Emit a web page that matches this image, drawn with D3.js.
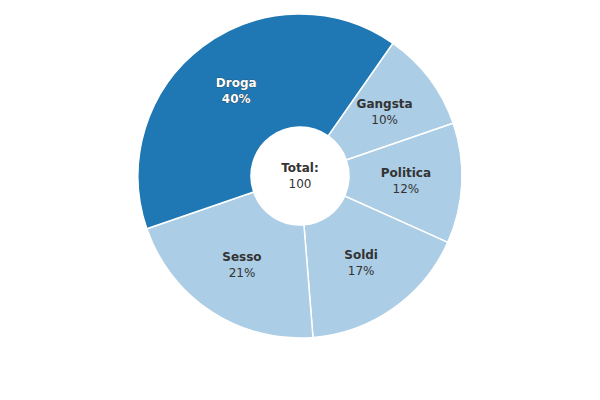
<!DOCTYPE html>
<html>
<head>
<script src="https://cdn.jsdelivr.net/npm/d3@7"></script>
<style>
  body { margin: 0; background: #fff; }
  text { font-family: "DejaVu Sans", sans-serif; font-size: 12px; }
</style>
</head>
<body>
<script>
  const categories = ["Gangsta", "Politica", "Soldi", "Sesso", "Droga"];
  const values = [10, 12, 17, 21, 40];
  const colors = ["#abcde5", "#abcde5", "#abcde5", "#abcde5", "#1f78b4"];

  const width = 600, height = 400;
  const cx = 300, cy = 176, outer = 162, inner = 49;
  const total = d3.sum(values);
  const start = 35 * Math.PI / 180;

  const svg = d3.select("body").append("svg")
    .attr("width", width).attr("height", height);
  const g = svg.append("g").attr("transform", `translate(${cx},${cy})`);

  const data = categories.map((c, i) => ({name: c, value: values[i], color: colors[i]}));
  const pie = d3.pie().value(d => d.value).sort(null)
    .startAngle(start).endAngle(start + 2 * Math.PI);
  const arc = d3.arc().innerRadius(inner).outerRadius(outer);
  const labelArc = d3.arc().innerRadius(106).outerRadius(106);

  g.selectAll("path").data(pie(data)).join("path")
    .attr("d", arc)
    .attr("fill", d => d.data.color)
    .attr("stroke", "#fff").attr("stroke-width", 1.5);

  const lab = g.selectAll("g.lab").data(pie(data)).join("g")
    .attr("class", "lab")
    .attr("transform", d => `translate(${labelArc.centroid(d)})`);
  lab.each(function(d) {
    const dark = d.data.name === "Droga";
    const t = d3.select(this).append("text").attr("text-anchor", "middle")
      .attr("fill", dark ? "#fff" : "#333")
      .attr("stroke", dark ? "#333" : "none").attr("stroke-width", dark ? 0.6 : 0)
      .attr("paint-order", "stroke");
    t.append("tspan").attr("x", 0).attr("y", -4).attr("font-weight", "bold").text(d.data.name);
    t.append("tspan").attr("x", 0).attr("y", 12)
      .attr("font-weight", dark ? "bold" : "normal")
      .text(Math.round(d.data.value / total * 100) + "%");
  });

  g.append("text").attr("text-anchor", "middle").attr("y", -4)
    .attr("font-weight", "bold").attr("fill", "#333").text("Total:");
  g.append("text").attr("text-anchor", "middle").attr("y", 12)
    .attr("fill", "#333").text(total);
</script>
</body>
</html>
